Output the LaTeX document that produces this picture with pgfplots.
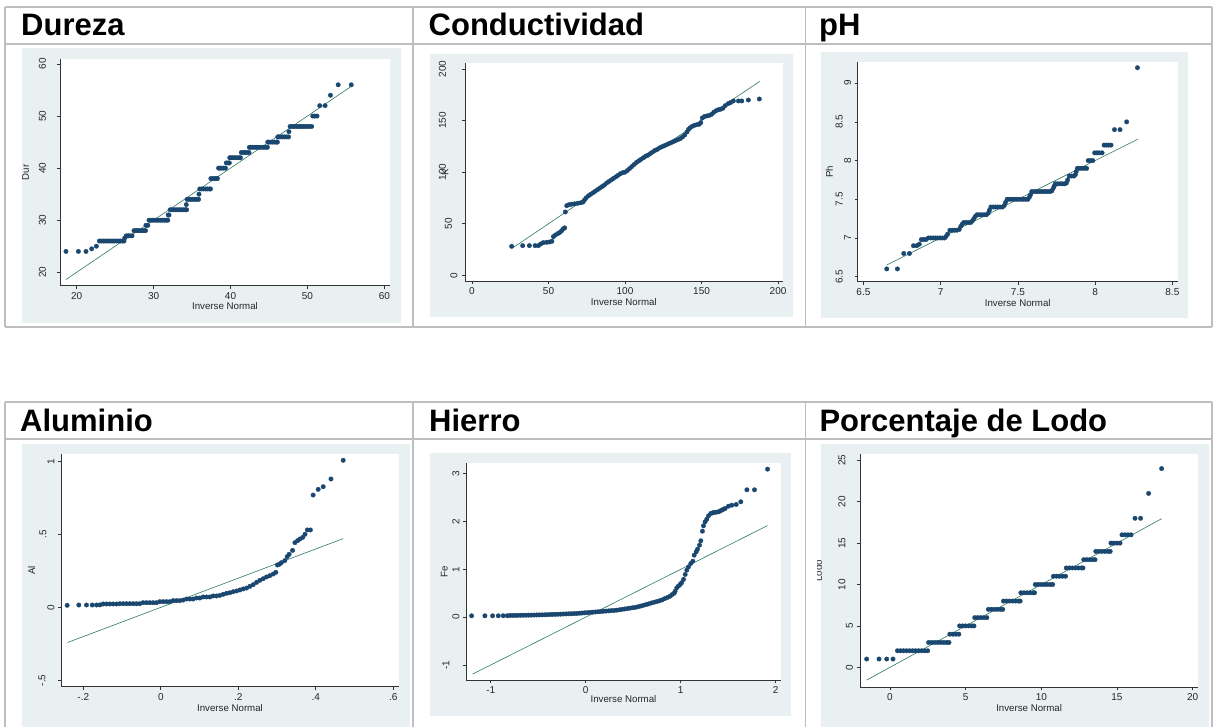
\documentclass[border=0pt]{standalone}
\usepackage{fontspec}
\setmainfont{Liberation Sans}
\usepackage{pgfplots}
\pgfplotsset{compat=1.18}
\definecolor{statabg}{RGB}{232,240,242}
\definecolor{statanavy}{RGB}{26,71,111}
\definecolor{statateal}{RGB}{45,120,100}
\definecolor{cellline}{RGB}{190,190,190}
\newcommand{\R}[2]{\raisebox{#1pt}{#2}}
\pgfplotsset{
 stata/.style={
  scale only axis,
  axis x line*=bottom, axis y line*=left,
  axis line style={line width=0.7pt, black!80, -},
  tick align=outside,
  major tick length=3pt,
  every tick/.style={line width=0.7pt, black!80},
  ticklabel style={font=\fontsize{10}{10}\selectfont, text=black!85},
  yticklabel style={rotate=90, anchor=south},
  label style={font=\fontsize{9.7}{10}\selectfont, text=black!85},
  axis background/.style={fill=white},
  xlabel={Inverse Normal},
 },
 dots/.style={only marks, mark=*, mark size=2.25pt, mark options={fill=statanavy, draw=statanavy, line width=0.3pt}},
 refl/.style={statateal, line width=0.6pt, no marks},
}
\begin{document}
\begin{tikzpicture}
\useasboundingbox (0pt,0pt) rectangle (1214pt,-727pt);
\begin{scope}[x=1pt,y=-1pt]
% grey graph regions
\fill[statabg] (22,48) rectangle (401,323);
\fill[statabg] (430,54) rectangle (793.3,317.3);
\fill[statabg] (820.7,52.3) rectangle (1187.7,318.3);
\fill[statabg] (21.7,444.3) rectangle (410,727);
\fill[statabg] (430,452.7) rectangle (791,715.7);
\fill[statabg] (820.7,444.3) rectangle (1209.3,727);
% table lines
\begin{scope}[draw=cellline, line width=1.3pt]
\draw (5,7) -- (1212,7);
\draw (5,44) -- (1212,44);
\draw (5,327) -- (1212,327);
\draw (5,402) -- (1212,402);
\draw (5,439) -- (1212,439);
\foreach \xx in {5,413,805.5,1212}{
  \draw (\xx,7) -- (\xx,327);
  \draw (\xx,402) -- (\xx,728);
}
\end{scope}
% titles
\begin{scope}[every node/.style={anchor=base west, inner sep=0pt, font=\fontsize{31}{31}\selectfont\bfseries}]
\node at (21,36) {Dureza};
\node at (428.5,36) {Conductividad};
\node at (819,36) {pH};
\node at (20,431) {Aluminio};
\node at (429,431) {Hierro};
\node at (819.3,431) {Porcentaje de Lodo};
\end{scope}
\end{scope}

% ---------------- Dureza
\begin{axis}[stata, at={(60pt,-285.7pt)}, anchor=south west,
  width=330pt, height=226.4pt,
  xmin=17.83, xmax=60.74, ymin=17.42, ymax=60.9,
  xtick={20,30,40,50,60}, xticklabels={20,30,40,50,60},
  ytick={20,30,40,50,60}, yticklabels={\R{7.5}{20},\R{7.5}{30},\R{7.5}{40},\R{7.5}{50},\R{7.5}{60}},
  ylabel={Dur},
  xlabel style={at={(axis description cs:0.5,-0.0897)}, anchor=center},
  ylabel style={at={(axis description cs:-0.104,0.5)}, anchor=center}]
\addplot[dots] coordinates {
(18.61,24)(20.22,24)(21.21,24)(21.95,24.5)(22.56,25)
(22.95,26)(23.2,26)(23.45,26)(23.7,26)(23.95,26)(24.2,26)(24.45,26)(24.7,26)(24.95,26)(25.2,26)(25.45,26)(25.7,26)(25.95,26)(26.15,26)
(26.25,26.6)(26.45,27)(26.7,27)(26.95,27)(27.2,27)
(27.45,28)(27.7,28)(27.95,28)(28.2,28)(28.45,28)(28.7,28)(28.95,28)
(29.0,29)(29.25,29)
(29.4,30)(29.65,30)(29.9,30)(30.15,30)(30.4,30)(30.65,30)(30.9,30)(31.15,30)(31.4,30)(31.65,30)(31.85,30)
(31.9,31)(32.0,31)
(32.15,32)(32.4,32)(32.65,32)(32.9,32)(33.15,32)(33.4,32)(33.65,32)(33.9,32)(34.15,32)(34.3,32)
(34.25,33)
(34.35,34)(34.6,34)(34.85,34)(35.1,34)(35.35,34)(35.6,34)(35.85,34)
(35.9,35)
(36.0,36)(36.25,36)(36.5,36)(36.75,36)(37.0,36)(37.25,36)(37.4,36)
(37.45,38)(37.7,38)(37.95,38)(38.2,38)(38.3,38)
(38.45,40)(38.65,40)(38.85,40)(39.1,40)(39.35,40)
(39.45,41)(39.7,41)(39.85,41)
(39.9,42)(40.1,42)(40.35,42)(40.6,42)(40.85,42)(41.1,42)(41.3,42)
(41.4,43)(41.65,43)(41.9,43)(42.15,43)(42.4,43)
(42.45,44)(42.6,44)(42.85,44)(43.1,44)(43.35,44)(43.6,44)(43.85,44)(44.1,44)(44.35,44)(44.6,44)(44.8,44)
(44.85,45)(45.0,45)(45.25,45)(45.5,45)(45.75,45)(46.0,45)(46.1,45)
(46.15,46)(46.3,46)(46.55,46)(46.8,46)(47.05,46)(47.3,46)(47.55,46)
(47.6,47)
(47.75,48)(48.0,48)(48.25,48)(48.5,48)(48.75,48)(49.0,48)(49.25,48)(49.5,48)(49.75,48)(50.0,48)(50.25,48)(50.55,48)
(50.7,50)(50.95,50)(51.25,50)
(51.6,52)(52.3,52)
(53.0,54)
(54.0,56)(55.7,56)
};
\addplot[refl] coordinates {(18.6,18.6) (55.7,55.7)};
\end{axis}

% ---------------- Conductividad
\begin{axis}[stata, at={(465pt,-281pt)}, anchor=south west,
  width=317.7pt, height=217.7pt,
  xmin=-4.58, xmax=203.05, ymin=-5.49, ymax=205.5,
  xtick={0,50,100,150,200}, xticklabels={0,50,100,150,200},
  ytick={0,50,100,150,200}, yticklabels={\R{1}{0},\R{6.5}{50},\R{12.5}{100},\R{12.5}{150},\R{12.5}{200}},
  ylabel={K},
  xlabel style={at={(axis description cs:0.5,-0.095)}, anchor=center},
  ylabel style={at={(axis description cs:-0.063,0.5)}, anchor=center}]
\addplot[dots] coordinates {
(25.9,28.1)(33.1,28.8)(37.5,28.8)(41.2,28.8)(43.4,28.8)(44.9,30.4)(46.6,31.7)(48.8,32)(50.5,32.3)(52.2,33)
(53.2,37.5)(54.5,39.1)(56.2,40.6)(57.5,41.7)(58.6,43.3)(59.7,45.2)(60.6,46)
(61,61.4)(61.9,67.5)(63.3,68.5)(65,68.9)(67,69.3)(69,69.8)(71,70.3)(72.5,71)(73.5,73)(74.5,75)(76,77)
(77.5,78.5)(79,80)(80.5,81.5)(82,83)(83.5,84.5)(85,86)(86.5,87.5)(88,89.5)(89.5,91)(91,92.5)(92.5,94)
(94,95.5)(95.5,97)(97,98.5)(98.5,99.5)(100,100)(101.5,101.5)(103,103.5)(104.5,105.5)(106,107.5)(107.5,109.5)
(109,111)(110.5,112.5)(112,114)(113.5,115.5)(115,116.5)(116.5,118)(118,119.5)(119.5,121)(121,122)(122.5,123.5)
(124,124.5)(125.5,125.5)(127,126.5)(128.5,127.5)(130,128.5)(131.5,129.5)(133,130.5)(134.5,131.5)(136,132.5)
(137.5,134)(139,136)(140.5,139)(141.5,141.5)(142.5,143)(144,144.5)(145.5,145.5)(147,146)(148.5,146.5)(149.5,148)
(150.5,152.5)(152,154)(153.5,154.5)(155,155)(156.5,156)(158,158)(159.5,159.5)(161,160.5)(162.5,161)(164,162)
(165.5,164.5)(167.5,166.5)(169,167.5)(170.8,169)(174.1,169)(176.3,169)(180.6,169.9)(187.8,170.9)
};
\addplot[refl] coordinates {(27,27) (188,188)};
\end{axis}

% ---------------- pH
\begin{axis}[stata, at={(857.7pt,-281.7pt)}, anchor=south west,
  width=320pt, height=219.4pt,
  xmin=6.463, xmax=8.5345, ymin=6.435, ymax=9.27,
  xtick={6.5,7,7.5,8,8.5}, xticklabels={6.5,7,7.5,8,8.5},
  ytick={6.5,7,7.5,8,8.5,9}, yticklabels={\R{8.5}{6.5},\R{0}{7},\R{8.5}{7.5},\R{0}{8},\R{8.5}{8.5},\R{0}{9}},
  ylabel={Ph},
  xlabel style={at={(axis description cs:0.5,-0.0957)}, anchor=center},
  ylabel style={at={(axis description cs:-0.0888,0.5)}, anchor=center}]
\addplot[dots] coordinates {
(6.651,6.6)(6.72,6.6)(6.761,6.8)(6.798,6.8)(6.824,6.9)(6.845,6.9)(6.862,6.92)
(6.875,6.98)(6.89,6.98)(6.905,6.98)(6.92,7)(6.935,7)(6.95,7)(6.965,7)(6.98,7)(6.995,7)(7.01,7)(7.025,7)(7.035,7.02)(7.045,7.05)
(7.06,7.1)(7.075,7.1)(7.09,7.1)(7.105,7.1)(7.12,7.11)(7.13,7.15)(7.14,7.18)
(7.15,7.2)(7.165,7.2)(7.18,7.2)(7.195,7.2)(7.205,7.22)(7.215,7.25)(7.225,7.28)
(7.235,7.3)(7.25,7.3)(7.265,7.3)(7.28,7.3)(7.295,7.3)(7.308,7.32)(7.316,7.36)
(7.325,7.4)(7.34,7.4)(7.355,7.4)(7.37,7.4)(7.385,7.4)(7.4,7.4)(7.412,7.42)(7.42,7.46)
(7.43,7.5)(7.445,7.5)(7.46,7.5)(7.475,7.5)(7.49,7.5)(7.505,7.5)(7.52,7.5)(7.535,7.5)(7.55,7.5)(7.565,7.5)(7.575,7.53)(7.582,7.56)
(7.59,7.6)(7.605,7.6)(7.62,7.6)(7.635,7.6)(7.65,7.6)(7.665,7.6)(7.68,7.6)(7.695,7.6)(7.71,7.6)(7.72,7.61)(7.728,7.64)(7.735,7.67)
(7.742,7.7)(7.757,7.7)(7.772,7.7)(7.787,7.7)(7.802,7.7)(7.814,7.71)(7.822,7.75)
(7.833,7.8)(7.848,7.8)(7.863,7.8)(7.872,7.82)(7.878,7.86)
(7.885,7.9)(7.9,7.9)(7.915,7.9)(7.93,7.9)(7.945,7.9)
(7.955,8)(7.97,8)(7.985,8)
(7.997,8.1)(8.012,8.1)(8.027,8.1)(8.045,8.1)
(8.058,8.2)(8.073,8.2)(8.088,8.2)(8.103,8.2)
(8.125,8.4)(8.161,8.4)(8.204,8.5)(8.274,9.2)
};
\addplot[refl] coordinates {(6.651,6.651) (8.276,8.276)};
\end{axis}

% ---------------- Aluminio
\begin{axis}[stata, at={(61pt,-686.7pt)}, anchor=south west,
  width=338pt, height=232.4pt,
  xmin=-0.2576, xmax=0.6146, ymin=-0.5434, ymax=1.048,
  xtick={-0.2,0,0.2,0.4,0.6}, xticklabels={-.2,0,.2,.4,.6},
  ytick={-0.5,0,0.5,1}, yticklabels={\R{9}{-.5},\R{0}{0},\R{8}{.5},\R{0}{1}},
  ylabel={Al},
  xlabel style={at={(axis description cs:0.5,-0.093)}, anchor=center},
  ylabel style={at={(axis description cs:-0.0867,0.5)}, anchor=center}]
\addplot[dots] coordinates {
(-0.2417,0.014)(-0.2116,0.016)(-0.1918,0.016)(-0.177,0.016)(-0.166,0.016)(-0.157,0.017)
(-0.1488,0.023)(-0.1402,0.023)(-0.1316,0.023)(-0.123,0.023)(-0.1144,0.023)(-0.1058,0.025)(-0.0972,0.025)(-0.0886,0.025)
(-0.08,0.025)(-0.0714,0.025)(-0.0628,0.025)(-0.0542,0.025)(-0.0456,0.032)(-0.037,0.032)(-0.0284,0.032)(-0.0198,0.032)
(-0.0112,0.032)(-0.0026,0.039)(0.006,0.039)(0.0146,0.039)(0.0232,0.039)(0.0318,0.046)(0.0404,0.046)(0.049,0.046)
(0.0576,0.05)(0.0662,0.057)(0.0748,0.057)(0.0834,0.057)(0.092,0.064)(0.1006,0.064)(0.1092,0.071)(0.1178,0.071)
(0.1265,0.071)(0.1351,0.078)(0.1437,0.078)(0.1523,0.082)(0.1609,0.089)(0.1695,0.096)(0.1781,0.1)(0.1867,0.107)
(0.1953,0.112)(0.2039,0.119)(0.2125,0.126)(0.2211,0.132)(0.2297,0.144)(0.2383,0.155)(0.2469,0.171)(0.2555,0.185)
(0.2641,0.196)(0.2727,0.208)(0.2813,0.217)(0.2899,0.228)(0.2968,0.24)
(0.301,0.29)(0.306,0.295)(0.311,0.306)(0.32,0.32)(0.326,0.347)(0.331,0.363)(0.34,0.39)(0.346,0.443)
(0.353,0.457)(0.359,0.468)(0.366,0.479)(0.372,0.5)(0.378,0.53)(0.386,0.53)
(0.393,0.769)(0.406,0.808)(0.419,0.826)(0.439,0.879)(0.4705,1.007)
};
\addplot[refl] coordinates {(-0.241,-0.241) (0.4705,0.4705)};
\end{axis}

% ---------------- Hierro
\begin{axis}[stata, at={(466pt,-680pt)}, anchor=south west,
  width=315pt, height=216.7pt,
  xmin=-1.26, xmax=2.056, ymin=-1.3136, ymax=3.216,
  xtick={-1,0,1,2}, xticklabels={-1,0,1,2},
  ytick={-1,0,1,2,3}, yticklabels={\R{10}{-1},\R{0}{0},\R{0}{1},\R{0}{2},\R{0}{3}},
  ylabel={Fe},
  xlabel style={at={(axis description cs:0.5,-0.0877)}, anchor=center},
  ylabel style={at={(axis description cs:-0.0686,0.5)}, anchor=center}]
\addplot[dots] coordinates {
(-1.201,0.028)(-1.061,0.028)(-0.98,0.028)(-0.92,0.028)(-0.868,0.03)(-0.825,0.03)
(-0.797,0.035)(-0.769,0.036)(-0.741,0.037)(-0.713,0.038)(-0.685,0.039)(-0.657,0.040)(-0.629,0.041)(-0.601,0.042)
(-0.573,0.043)(-0.544,0.044)(-0.516,0.046)(-0.488,0.047)(-0.460,0.048)(-0.432,0.050)(-0.404,0.052)(-0.376,0.055)
(-0.348,0.057)(-0.320,0.059)(-0.292,0.061)(-0.263,0.063)(-0.235,0.066)(-0.207,0.068)(-0.179,0.070)(-0.151,0.072)
(-0.123,0.075)(-0.095,0.077)(-0.067,0.082)(-0.039,0.086)(-0.011,0.091)(0.018,0.095)(0.046,0.100)(0.074,0.104)
(0.102,0.109)(0.130,0.113)(0.158,0.118)(0.186,0.123)(0.214,0.127)(0.242,0.132)(0.270,0.137)(0.299,0.141)
(0.327,0.146)(0.355,0.154)(0.383,0.163)(0.411,0.171)(0.439,0.180)(0.467,0.188)(0.495,0.197)(0.523,0.205)
(0.551,0.217)(0.580,0.232)(0.608,0.248)(0.636,0.263)(0.664,0.278)(0.692,0.297)(0.720,0.312)(0.748,0.326)
(0.776,0.341)(0.804,0.361)(0.832,0.387)(0.861,0.413)(0.889,0.439)(0.910,0.473)(0.931,0.5)
(0.941,0.54)(0.959,0.613)(0.976,0.65)(0.994,0.683)(1.01,0.72)(1.03,0.79)(1.047,0.892)(1.064,0.983)(1.082,1.05)
(1.106,1.12)(1.128,1.17)(1.142,1.296)(1.163,1.366)(1.177,1.42)(1.198,1.505)(1.212,1.596)(1.229,1.798)(1.24,1.909)
(1.257,1.993)(1.275,2.049)(1.293,2.118)(1.317,2.167)(1.335,2.18)(1.352,2.188)(1.375,2.195)(1.398,2.202)(1.415,2.22)
(1.433,2.237)(1.45,2.255)(1.468,2.272)(1.503,2.32)(1.538,2.341)(1.584,2.355)(1.633,2.411)(1.697,2.662)(1.777,2.662)(1.914,3.094)
};
\addplot[refl] coordinates {(-1.19,-1.19) (1.914,1.914)};
\end{axis}

% ---------------- Porcentaje de Lodo
\begin{scope}
\clip (817.3pt,-440pt) rectangle (1214pt,-727pt);
\begin{axis}[stata, at={(860pt,-687.3pt)}, anchor=south west,
  width=338.3pt, height=233pt,
  xmin=-1.982, xmax=20.374, ymin=-2.415, ymax=25.725,
  xtick={0,5,10,15,20}, xticklabels={0,5,10,15,20},
  ytick={0,5,10,15,20,25}, yticklabels={\R{0.5}{0},\R{0.5}{5},\R{8}{10},\R{8}{15},\R{8}{20},\R{8}{25}},
  ylabel={Lodo},
  xlabel style={at={(axis description cs:0.5,-0.090)}, anchor=center},
  ylabel style={at={(axis description cs:-0.1227,0.5)}, anchor=center}]
\addplot[dots] coordinates {
(-1.542,1)(-0.727,1)(-0.22,1)(0.198,1)
(0.49,2)(0.69,2)(0.89,2)(1.09,2)(1.29,2)(1.49,2)(1.69,2)(1.89,2)(2.09,2)(2.29,2)(2.49,2)
(2.55,3)(2.75,3)(2.95,3)(3.15,3)(3.35,3)(3.55,3)(3.75,3)(3.9,3)
(3.95,4)(4.15,4)(4.35,4)(4.55,4)
(4.6,5)(4.8,5)(5.0,5)(5.2,5)(5.4,5)(5.55,5)
(5.6,6)(5.8,6)(6.0,6)(6.2,6)(6.4,6)
(6.5,7)(6.7,7)(6.9,7)(7.1,7)(7.3,7)(7.45,7)
(7.5,8)(7.7,8)(7.9,8)(8.1,8)(8.3,8)(8.5,8)(8.6,8)
(8.65,9)(8.85,9)(9.05,9)(9.25,9)(9.45,9)(9.55,9)
(9.6,10)(9.8,10)(10.0,10)(10.2,10)(10.4,10)(10.6,10)(10.75,10)
(10.8,11)(11.0,11)(11.2,11)(11.4,11)(11.6,11)
(11.65,12)(11.85,12)(12.05,12)(12.25,12)(12.45,12)(12.65,12)(12.75,12)
(12.8,13)(13.0,13)(13.2,13)(13.4,13)(13.55,13)
(13.6,14)(13.8,14)(14.0,14)(14.2,14)(14.4,14)(14.55,14)
(14.6,15)(14.8,15)(15.0,15)(15.2,15)
(15.33,16)(15.53,16)(15.73,16)(15.93,16)
(16.19,18)(16.56,18)(17.09,21)(17.95,24)
};
\addplot[refl] coordinates {(-1.55,-1.55) (17.95,17.95)};
\end{axis}
\end{scope}
\end{tikzpicture}
\end{document}
